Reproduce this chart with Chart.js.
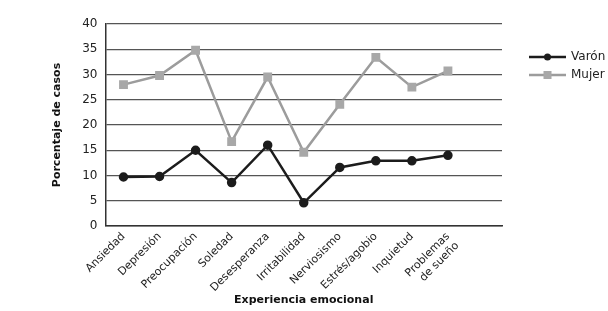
<!DOCTYPE html>
<html>
<head>
<meta charset="utf-8">
<script src="https://cdn.jsdelivr.net/npm/chart.js@4"></script>
<style>
  html, body { margin: 0; padding: 0; background: #fff; }
  #wrap { position: relative; width: 608px; height: 311px; }
</style>
</head>
<body>
<div id="wrap"><canvas id="chart"></canvas></div>
<script>
// categories (last slot is empty in the original figure)
const categories = ['Ansiedad', 'Depresión', 'Preocupación', 'Soledad', 'Desesperanza',
  'Irritabilidad', 'Nerviosismo', 'Estrés/agobio', 'Inquietud', ['Problemas', 'de sueño'], ''];
const varon = [9.7, 9.8, 15, 8.6, 16, 4.6, 11.6, 12.9, 12.9, 14, null];
const mujer = [28, 29.8, 34.8, 16.7, 29.5, 14.6, 24.1, 33.4, 27.5, 30.7, null];
const yTicks = [0, 5, 10, 15, 20, 25, 30, 35, 40];

const FONT = '"DejaVu Sans", sans-serif';

// legend drawn as line + marker, like the original figure
const sideLegend = {
  id: 'sideLegend',
  afterDraw(chart) {
    const ctx = chart.ctx;
    const x0 = 529, len = 37;
    chart.data.datasets.forEach((ds, i) => {
      const y = 57 + i * 18;
      ctx.save();
      ctx.strokeStyle = ds.borderColor;
      ctx.lineWidth = ds.borderWidth;
      ctx.beginPath();
      ctx.moveTo(x0, y);
      ctx.lineTo(x0 + len, y);
      ctx.stroke();
      ctx.fillStyle = ds.pointBackgroundColor;
      if (ds.pointStyle === 'rect') {
        ctx.fillRect(x0 + len / 2 - 4, y - 4, 8, 8);
      } else {
        ctx.beginPath();
        ctx.arc(x0 + len / 2, y, 3.5, 0, Math.PI * 2);
        ctx.fill();
      }
      ctx.fillStyle = '#222';
      ctx.font = '12px ' + FONT;
      ctx.textBaseline = 'middle';
      ctx.fillText(ds.label, x0 + len + 5, y);
      ctx.restore();
    });
  }
};

new Chart(document.getElementById('chart'), {
  type: 'line',
  data: {
    labels: categories,
    datasets: [
      {
        label: 'Varón',
        data: varon,
        borderColor: '#1c1c1c',
        backgroundColor: '#1c1c1c',
        pointBackgroundColor: '#1c1c1c',
        pointBorderColor: '#1c1c1c',
        borderWidth: 2.5,
        pointStyle: 'circle',
        pointRadius: 3.5,
        tension: 0
      },
      {
        label: 'Mujer',
        data: mujer,
        borderColor: '#9c9c9c',
        backgroundColor: '#a8a8a8',
        pointBackgroundColor: '#a8a8a8',
        pointBorderColor: '#a8a8a8',
        borderWidth: 2.5,
        pointStyle: 'rect',
        pointRadius: 4.5,
        tension: 0
      }
    ]
  },
  options: {
    responsive: true,
    maintainAspectRatio: false,
    animation: false,
    layout: { padding: { left: 51, right: 106, top: 24, bottom: 4 } },
    plugins: {
      legend: { display: false },
      tooltip: { enabled: false }
    },
    scales: {
      x: {
        offset: true,
        afterFit: axis => { axis.height = 81; },
        grid: { display: false, drawTicks: false },
        border: { display: true, color: '#333', width: 1.5 },
        ticks: {
          color: '#222',
          font: { family: FONT, size: 11 },
          maxRotation: 45,
          minRotation: 45,
          padding: 4,
          autoSkip: false
        },
        title: {
          display: true,
          text: 'Experiencia emocional',
          color: '#111',
          font: { family: FONT, size: 11, weight: 'bold' },
          padding: { top: 0, bottom: 0 }
        }
      },
      y: {
        min: 0,
        max: 40,
        afterBuildTicks: axis => { axis.ticks = yTicks.map(v => ({ value: v })); },
        grid: { color: '#555', lineWidth: 1.2, drawTicks: false },
        border: { display: true, color: '#333', width: 1.5 },
        ticks: {
          color: '#222',
          font: { family: FONT, size: 12 },
          padding: 8
        },
        title: {
          display: true,
          text: 'Porcentaje de casos',
          color: '#111',
          font: { family: FONT, size: 11, weight: 'bold' },
          padding: { top: 0, bottom: 10 }
        }
      }
    }
  },
  plugins: [sideLegend]
});
</script>
</body>
</html>
